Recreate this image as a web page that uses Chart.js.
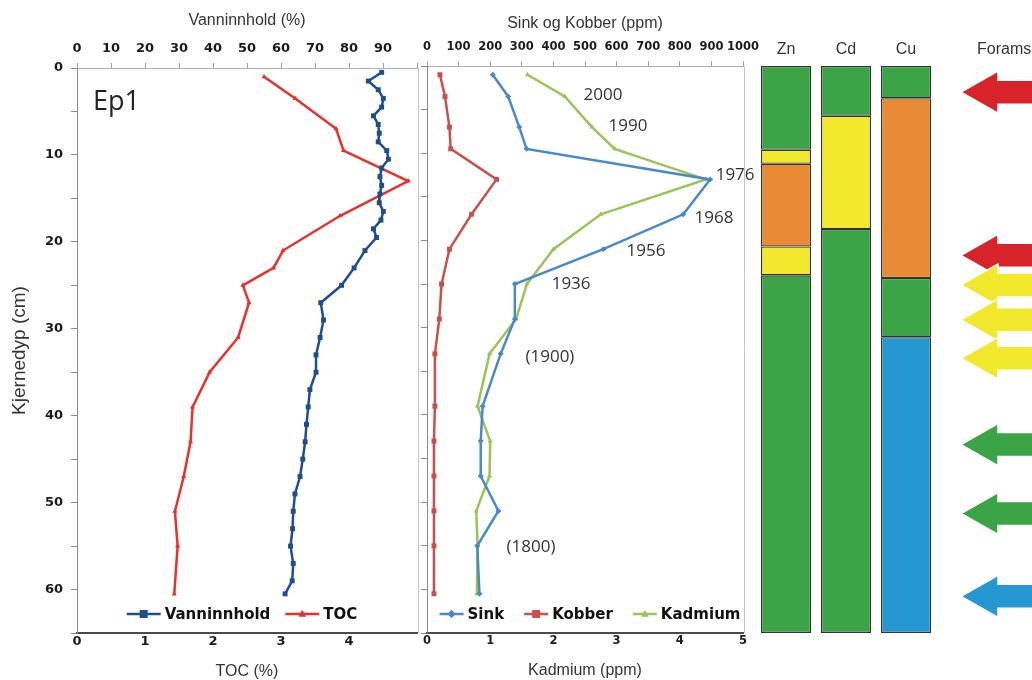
<!DOCTYPE html>
<html><head><meta charset="utf-8">
<script src="https://cdn.jsdelivr.net/npm/chart.js@4.4.1/dist/chart.umd.min.js"></script>
<style>
html,body{margin:0;padding:0;background:#fff;}
#wrap{position:relative;width:1032px;height:680px;overflow:hidden;background:#fff;}
canvas{position:absolute;top:0;}
</style></head><body>
<div id="wrap">
<canvas id="cA" width="422" height="680" style="left:0px"></canvas>
<canvas id="cB" width="352" height="680" style="left:420px"></canvas>
<canvas id="cC" width="280" height="680" style="left:752px"></canvas>
</div>
<script>
// ---------- Panel 1: Vanninnhold & TOC ----------
const depthWater = [0.5,1.5,2.5,3.5,4.5,5.5,6.5,7.5,8.5,9.5,10.5,11.5,12.5,13.5,14.5,15.5,16.5,17.5,18.5,19.5,21,23,25,27,29,31,33,35,37,39,41,43,45,47,49,51,53,55,57,59,60.5];
const vanninnhold = [89.6,85.7,88.6,90.1,89.6,87.2,88.6,88.9,88.6,91.1,91.6,89.6,89.1,89.6,89.1,88.9,90.1,89.4,87.2,88.1,84.7,81.5,77.8,71.7,72.5,71.5,70.3,70.3,68.5,68.0,67.5,67.1,66.4,65.6,64.1,63.6,63.4,62.8,63.6,63.3,61.2];
const depthTOC = [1,3.5,7,9.5,13,17,21,23,25,27,31,35,39,43,47,51,55,60.5];
const toc = [2.75,3.21,3.81,3.92,4.87,3.87,3.03,2.89,2.44,2.53,2.37,1.95,1.70,1.67,1.57,1.44,1.48,1.43];

// ---------- Panel 2: Sink, Kobber, Kadmium ----------
const depthMetals = [1,3.5,7,9.5,13,17,21,25,29,33,39,43,47,51,55,60.5];
const sink = [208,257,292,315,896,811,558,278,278,233,176,170,170,226,159,166];
const kobber = [41,57,71,75,220,141,71,46,39,25,25,22,22,22,22,22];
const kadmium = [1.59,2.18,2.61,2.97,4.41,2.75,2.0,1.58,1.41,0.99,0.80,1.0,0.99,0.78,0.80,0.79];
const yearLabels = ['2000','1990','1976','1968','1956','1936','(1900)','(1800)'];
const yearPpm = [557,636,975,908,693,456,389,329];
const yearDepth = [3.3,6.9,12.5,17.4,21.2,25.0,33.4,55.2];

// ---------- Panel 3: status columns & forams ----------
const columnNames = ['Zn','Cd','Cu'];
const znBounds = [0,9.6,11.2,20.7,24.0,65];
const znClasses = ['green','yellow','orange','yellow','green'];
const cdBounds = [0,5.7,18.7,65];
const cdClasses = ['green','yellow','green'];
const cuBounds = [0,3.7,24.3,31.1,65];
const cuClasses = ['green','orange','green','blue'];
const foramDepths = [3.0,21.7,25.1,29.1,33.5,43.4,51.3,60.8];
const foramClasses = ['red','red','yellow','yellow','yellow','green','green','blue'];

const palette = {green:'#3ba447', yellow:'#f2e92c', orange:'#e88b34', blue:'#2598d1', red:'#d9232a'};

const tickFontA = {family:'"DejaVu Sans", sans-serif', size:13, weight:'bold'};
const tickFontB = {family:'"DejaVu Sans", sans-serif', size:11.5, weight:'bold'};
const titleFont = {family:'"Liberation Sans", Arial, sans-serif', size:16, lineHeight:1};

function fixSize(prop, val) {
  return function(s) { s[prop] = val; s.paddingLeft = 0; s.paddingRight = 0; s.paddingTop = 0; s.paddingBottom = 0; };
}
function pts(xs, ys) { return ys.map((d,i) => ({x: xs[i], y: d})); }

function drawMarker(ctx, style, x, y, r) {
  ctx.beginPath();
  if (style === 'rect') ctx.rect(x-r, y-r, 2*r, 2*r);
  else if (style === 'triangle') { ctx.moveTo(x, y-r*1.2); ctx.lineTo(x+r*1.1, y+r*0.8); ctx.lineTo(x-r*1.1, y+r*0.8); ctx.closePath(); }
  else { ctx.moveTo(x, y-r*1.2); ctx.lineTo(x+r*1.2, y); ctx.lineTo(x, y+r*1.2); ctx.lineTo(x-r*1.2, y); ctx.closePath(); }
  ctx.fill();
}

const framePlugin = {
  id: 'frame',
  beforeDatasetsDraw(chart) {
    const {ctx, chartArea: a} = chart;
    ctx.save(); ctx.strokeStyle = '#c6c6c6'; ctx.lineWidth = 1;
    ctx.beginPath(); ctx.moveTo(a.right + 1.5, a.top); ctx.lineTo(a.right + 1.5, a.bottom); ctx.stroke();
    ctx.restore();
  }
};

const legendPlugin = {
  id: 'inLegend',
  afterDatasetsDraw(chart, args, opts) {
    const {ctx, chartArea: a} = chart;
    ctx.save();
    ctx.font = 'bold 15px "DejaVu Sans", sans-serif';
    const ds = chart.data.datasets;
    const ws = ds.map(d => opts.lineLen + 4 + ctx.measureText(d.label).width);
    const total = ws.reduce((s, w) => s + w, 0) + opts.gap * (ds.length - 1);
    let x = (a.left + a.right) / 2 - total / 2 + (opts.dx || 0);
    const y = a.bottom - 19;
    ds.forEach((d, i) => {
      ctx.strokeStyle = d.borderColor; ctx.fillStyle = d.borderColor; ctx.lineWidth = 2.5;
      ctx.beginPath(); ctx.moveTo(x, y); ctx.lineTo(x + opts.lineLen, y); ctx.stroke();
      drawMarker(ctx, d.pointStyle, x + opts.lineLen / 2, y, d.pointRadius + 0.5);
      ctx.fillStyle = '#111'; ctx.textBaseline = 'middle'; ctx.textAlign = 'left';
      ctx.fillText(d.label, x + opts.lineLen + 4, y + 1);
      x += ws[i] + opts.gap;
    });
    ctx.restore();
  }
};

const ep1Plugin = {
  id: 'ep1',
  afterDatasetsDraw(chart) {
    const {ctx, chartArea: a} = chart;
    ctx.save(); ctx.font = '27px "Open Sans", sans-serif'; ctx.fillStyle = '#222';
    ctx.textBaseline = 'middle'; ctx.textAlign = 'left';
    ctx.fillText('Ep1', a.left + 16, a.top + 34);
    ctx.restore();
  }
};

const yearPlugin = {
  id: 'years',
  afterDatasetsDraw(chart) {
    const {ctx, scales} = chart;
    ctx.save(); ctx.font = '17px "Open Sans", sans-serif'; ctx.fillStyle = '#333';
    ctx.textAlign = 'center'; ctx.textBaseline = 'middle';
    yearLabels.forEach((t, i) => ctx.fillText(t, scales.x.getPixelForValue(yearPpm[i]), scales.y.getPixelForValue(yearDepth[i])));
    ctx.restore();
  }
};

const foramsPlugin = {
  id: 'forams',
  afterDraw(chart) {
    const {ctx, chartArea: a, scales} = chart;
    ctx.save();
    ctx.font = '16px "Liberation Sans", Arial, sans-serif'; ctx.fillStyle = '#333';
    ctx.textBaseline = 'middle'; ctx.textAlign = 'left';
    ctx.fillText('Forams', a.right + 41, 50);
    const tip = a.right + 25;
    foramDepths.forEach((d, i) => {
      const y = scales.y.getPixelForValue(d);
      ctx.beginPath();
      ctx.moveTo(tip, y); ctx.lineTo(tip + 37, y - 21); ctx.lineTo(tip + 37, y - 12);
      ctx.lineTo(chart.width + 5, y - 12); ctx.lineTo(chart.width + 5, y + 12);
      ctx.lineTo(tip + 37, y + 12); ctx.lineTo(tip + 37, y + 21); ctx.closePath();
      ctx.fillStyle = palette[foramClasses[i]]; ctx.fill();
      ctx.strokeStyle = '#fff'; ctx.lineWidth = 1.5; ctx.stroke();
    });
    ctx.restore();
  }
};

function lineSet(label, xs, ys, color, style, r, axis) {
  return {label, data: pts(xs, ys), xAxisID: axis, yAxisID: 'y', showLine: true,
    borderColor: color, backgroundColor: color, borderWidth: 2.5,
    pointStyle: style, pointRadius: r, pointBorderWidth: 0, pointBackgroundColor: color};
}

function depthAxis(width, showLabels, font, withTitle) {
  return {type:'linear', position:'left', reverse:true, min:0, max:65,
    ticks:{stepSize:5, autoSkip:false, font:font, color:'#1a1a1a', padding:8,
      callback: v => (showLabels && v % 10 === 0) ? String(v) : ''},
    grid:{drawOnChartArea:false, tickLength:6, color:'#8a8a8a'},
    border:{color:'#8a8a8a'},
    title:{display:withTitle, text:'Kjernedyp (cm)', color:'#333',
      font:{family:'"Liberation Sans", Arial, sans-serif', size:19, lineHeight:1}, padding:{top:10, bottom:0}},
    afterFit: fixSize('width', width)};
}

// Chart A
new Chart(document.getElementById('cA'), {
  type: 'scatter',
  data: {datasets: [
    lineSet('Vanninnhold', vanninnhold, depthWater, '#1f4f8b', 'rect', 3.5, 'x'),
    lineSet('TOC', toc, depthTOC, '#e8302c', 'triangle', 3, 'x2')
  ]},
  options: {
    responsive:false, animation:false, events:[],
    layout:{padding:{left:0, right:5, top:0, bottom:0}},
    plugins:{legend:{display:false}, tooltip:{enabled:false}, inLegend:{lineLen:34, gap:15, dx:-5}},
    scales:{
      x:{type:'linear', position:'top', min:0, max:100,
        ticks:{stepSize:10, autoSkip:false, maxRotation:0, minRotation:0, font:tickFontA, color:'#1a1a1a', padding:6.5,
          callback: v => v === 100 ? '' : String(v)},
        grid:{drawOnChartArea:false, tickLength:5, color:'#a0a0a0'}, border:{color:'#b0b0b0'},
        title:{display:true, text:'Vanninnhold (%)', font:titleFont, color:'#333', padding:{top:13, bottom:0}},
        afterFit: fixSize('height', 68)},
      x2:{type:'linear', position:'bottom', min:0, max:5,
        ticks:{stepSize:1, autoSkip:false, maxRotation:0, minRotation:0, font:tickFontA, color:'#1a1a1a', padding:1.2,
          callback: v => v === 5 ? '' : String(v)},
        grid:{drawOnChartArea:false, drawTicks:false}, border:{color:'#4a4a4a', width:2},
        title:{display:true, text:'TOC (%)', font:titleFont, color:'#333', padding:{top:0, bottom:0}},
        afterFit: fixSize('height', 47)},
      y: depthAxis(77, true, tickFontA, true)
    }
  },
  plugins:[framePlugin, legendPlugin, ep1Plugin]
});

// Chart B
new Chart(document.getElementById('cB'), {
  type: 'scatter',
  data: {datasets: [
    lineSet('Sink', sink, depthMetals, '#4a89c8', 'rectRot', 3, 'x'),
    lineSet('Kobber', kobber, depthMetals, '#c8504b', 'rect', 3.5, 'x'),
    lineSet('Kadmium', kadmium, depthMetals, '#9cc25a', 'triangle', 3, 'x2')
  ]},
  options: {
    responsive:false, animation:false, events:[],
    layout:{padding:{left:0, right:29, top:0, bottom:0}},
    plugins:{legend:{display:false}, tooltip:{enabled:false}, inLegend:{lineLen:24, gap:20, dx:5}},
    scales:{
      x:{type:'linear', position:'top', min:0, max:1000,
        ticks:{stepSize:100, autoSkip:false, maxRotation:0, minRotation:0, font:tickFontB, color:'#1a1a1a', padding:7.5,
          callback: v => String(v)},
        grid:{drawOnChartArea:false, tickLength:5, color:'#a0a0a0'}, border:{color:'#b0b0b0'},
        title:{display:true, text:'Sink og Kobber (ppm)', font:titleFont, color:'#333', padding:{top:15.5, bottom:0}},
        afterFit: fixSize('height', 66)},
      x2:{type:'linear', position:'bottom', min:0, max:5,
        ticks:{stepSize:1, autoSkip:false, maxRotation:0, minRotation:0, font:tickFontB, color:'#1a1a1a', padding:1,
          callback: v => String(v)},
        grid:{drawOnChartArea:false, drawTicks:false}, border:{color:'#4a4a4a', width:2},
        title:{display:true, text:'Kadmium (ppm)', font:titleFont, color:'#333', padding:{top:0, bottom:1.5}},
        afterFit: fixSize('height', 47)},
      y: depthAxis(7, false, tickFontB, false)
    }
  },
  plugins:[framePlugin, legendPlugin, yearPlugin]
});

// Chart C
const cols = [{b:znBounds, c:znClasses}, {b:cdBounds, c:cdClasses}, {b:cuBounds, c:cuClasses}];
const nSeg = Math.max(...cols.map(c => c.c.length));
const barSets = [];
for (let i = 0; i < nSeg; i++) {
  barSets.push({
    data: cols.map(c => i < c.c.length ? [c.b[i], c.b[i + 1]] : null),
    backgroundColor: cols.map(c => i < c.c.length ? palette[c.c[i]] : 'rgba(0,0,0,0)'),
    borderColor: '#333', borderWidth: 1.3, borderSkipped: false,
    barPercentage: 0.833, categoryPercentage: 1, grouped: false
  });
}
new Chart(document.getElementById('cC'), {
  type: 'bar',
  data: {labels: columnNames, datasets: barSets},
  options: {
    responsive:false, animation:false, events:[],
    layout:{padding:{left:4, right:96, top:0, bottom:47}},
    plugins:{legend:{display:false}, tooltip:{enabled:false}},
    scales:{
      x:{position:'top', grid:{display:false, drawTicks:false}, border:{display:false},
        ticks:{font:{family:'"Liberation Sans", Arial, sans-serif', size:16}, color:'#333', padding:6.4, maxRotation:0},
        afterFit: fixSize('height', 66)},
      y:{display:false, reverse:true, min:0, max:65}
    }
  },
  plugins:[foramsPlugin]
});
</script>
</body></html>
